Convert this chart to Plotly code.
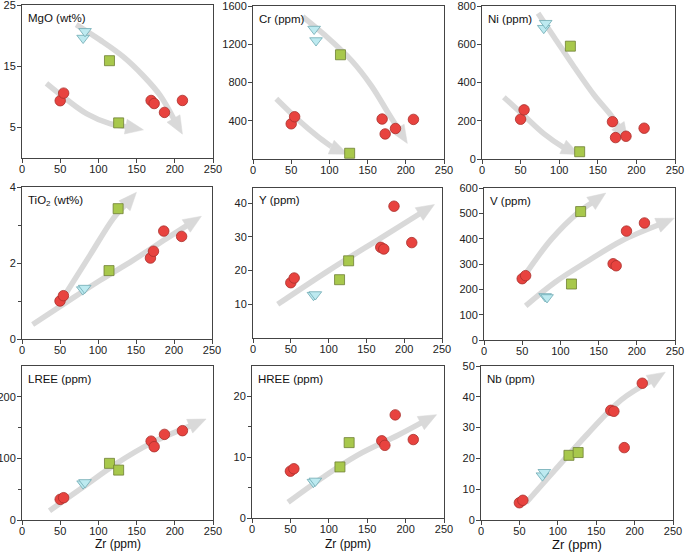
import plotly.graph_objects as go
import numpy as np

W, H = 685, 552

# ---------------- data ----------------
zr_red = [50, 54.5, 169, 173, 186.5, 210]
zr_green = [114.5, 126.5]
zr_cyan = [80, 82.5]

mgo_red = [9.36, 10.6, 9.4, 8.9, 7.45, 9.4]
mgo_green = [15.9, 5.74]
mgo_cyan = [19.6, 20.7]

cr_red = [368, 442, 418, 262, 319, 414]
cr_green = [1090, 60]
cr_cyan = [1359, 1239]

ni_red = [208, 257, 195, 112, 119, 161]
ni_green = [590, 38]
ni_cyan = [684, 710]

tio2_red = [1.00, 1.14, 2.13, 2.31, 2.84, 2.70]
tio2_green = [1.80, 3.43]
tio2_cyan = [1.30, 1.34]

y_red = [16.4, 17.8, 26.9, 26.4, 39.1, 28.3]
y_green = [17.3, 22.9]
y_cyan = [12.7, 12.9]

v_red = [242, 254, 301, 293, 430, 462]
v_green = [221, 507]
v_cyan = [172, 168]

lree_red = [33.5, 36.2, 128, 119, 139, 145]
lree_green = [92, 81]
lree_cyan = [59, 61]

hree_red = [7.7, 8.1, 12.7, 11.95, 16.96, 12.9]
hree_green = [8.4, 12.4]
hree_cyan = [5.9, 6.1]

nb_red = [5.6, 6.4, 35.6, 35.3, 23.5, 44.4]
nb_green = [21.0, 21.9]
nb_cyan = [14.4, 15.5]

# guide arrows (trend paths, data coordinates)
mgo_arrow1_x = [71, 102, 132, 159, 181, 210]
mgo_arrow1_y = [21.8, 19.3, 16.6, 13.4, 10.2, 3.9]
mgo_arrow2_x = [32, 58, 85, 115, 159]
mgo_arrow2_y = [12.2, 9.6, 7.2, 5.6, 4.6]

cr_arrow1_x = [65, 94, 129, 155, 177, 202]
cr_arrow1_y = [1490, 1296, 1030, 765, 481, 163]
cr_arrow2_x = [30.5, 59, 85, 105, 124]
cr_arrow2_y = [630, 411, 234, 115, 50]

ni_arrow1_x = [72.6, 93.5, 119.6, 145.7, 167.4, 189]
ni_arrow1_y = [762, 637, 480, 332, 227, 96]
ni_arrow2_x = [28.3, 54.3, 80.4, 104, 126]
ni_arrow2_y = [323, 227, 131, 65, 23]

tio2_arrow1_x = [14, 58.7, 102.5, 146, 190, 236]
tio2_arrow1_y = [0.38, 0.97, 1.54, 2.07, 2.64, 3.23]
tio2_arrow2_x = [58.7, 89.3, 120, 150.6]
tio2_arrow2_y = [1.23, 2.2, 3.17, 3.86]

y_arrow1_x = [32.7, 100, 170, 240]
y_arrow1_y = [10, 20, 29.8, 39.6]

v_arrow1_x = [55.9, 88.6, 123.6, 159.4]
v_arrow1_y = [267, 399, 504, 580]
v_arrow2_x = [54.6, 93, 136.7, 180.3, 249]
v_arrow2_y = [135, 228, 313, 392, 481]

lree_arrow1_x = [36, 80.6, 124, 167.7, 241]
lree_arrow1_y = [15, 54, 92, 124, 164]

hree_arrow1_x = [47, 93.5, 137, 190, 240.4]
hree_arrow1_y = [2.6, 6.8, 10.3, 13.6, 17]

nb_arrow1_x = [58.7, 95.6, 139, 182.6, 240]
nb_arrow1_y = [5.6, 16, 28, 39, 48]

x_ticks = [0, 50, 100, 150, 200, 250]

# ---------------- panel layout ----------------
panels = [
    dict(label="MgO (wt%)", red=mgo_red, green=mgo_green, cyan=mgo_cyan,
         yr=[0, 25], tv=[5, 15, 25], minor=None, box=(22, 213, 5, 158),
         arrows=[(mgo_arrow1_x, mgo_arrow1_y), (mgo_arrow2_x, mgo_arrow2_y)]),
    dict(label="Cr (ppm)", red=cr_red, green=cr_green, cyan=cr_cyan,
         yr=[0, 1600], tv=[400, 800, 1200, 1600], minor=None, box=(253, 444, 6, 159),
         arrows=[(cr_arrow1_x, cr_arrow1_y), (cr_arrow2_x, cr_arrow2_y)]),
    dict(label="Ni (ppm)", red=ni_red, green=ni_green, cyan=ni_cyan,
         yr=[0, 800], tv=[0, 200, 400, 600, 800], minor=None, box=(482, 675, 6, 159),
         arrows=[(ni_arrow1_x, ni_arrow1_y), (ni_arrow2_x, ni_arrow2_y)]),
    dict(label="TiO<sub>2</sub> (wt%)", red=tio2_red, green=tio2_green, cyan=tio2_cyan,
         yr=[0, 4], tv=[0, 2, 4], minor=[1, 3], box=(22, 212, 187, 339),
         arrows=[(tio2_arrow1_x, tio2_arrow1_y), (tio2_arrow2_x, tio2_arrow2_y)]),
    dict(label="Y (ppm)", red=y_red, green=y_green, cyan=y_cyan,
         yr=[0, 44.5], tv=[10, 20, 30, 40], minor=None, box=(253, 442, 188, 338),
         arrows=[(y_arrow1_x, y_arrow1_y)]),
    dict(label="V (ppm)", red=v_red, green=v_green, cyan=v_cyan,
         yr=[0, 600], tv=[0, 100, 200, 300, 400, 500, 600], minor=None, box=(484, 675, 188, 340),
         arrows=[(v_arrow1_x, v_arrow1_y), (v_arrow2_x, v_arrow2_y)]),
    dict(label="LREE (ppm)", red=lree_red, green=lree_green, cyan=lree_cyan,
         yr=[0, 250], tv=[0, 100, 200], minor=[50, 150], box=(22, 213, 366, 520),
         arrows=[(lree_arrow1_x, lree_arrow1_y)]),
    dict(label="HREE (ppm)", red=hree_red, green=hree_green, cyan=hree_cyan,
         yr=[0, 25], tv=[0, 10, 20], minor=[5, 15], box=(252, 444, 366, 518),
         arrows=[(hree_arrow1_x, hree_arrow1_y)]),
    dict(label="Nb (ppm)", red=nb_red, green=nb_green, cyan=nb_cyan,
         yr=[0, 50], tv=[0, 10, 20, 30, 40, 50], minor=None, box=(481, 673, 366, 520),
         arrows=[(nb_arrow1_x, nb_arrow1_y)]),
]

ARROW_COLOR = "#d9d9d9"
XR = [0, 250]
FONT = "Arial, Liberation Sans, sans-serif"


def build_arrow(box, yr, xs, ys, head_len=18.0, head_w=15.0):
    x0, x1, yt, yb = box
    sx = (x1 - x0) / (XR[1] - XR[0])
    sy = (yb - yt) / (yr[1] - yr[0])
    P = np.array([[(x - XR[0]) * sx, (y - yr[0]) * sy] for x, y in zip(xs, ys)])
    tip = P[-1]
    d = tip - P[-2]
    d = d / np.linalg.norm(d)
    base = tip - d * head_len
    perp = np.array([-d[1], d[0]])
    tri = np.array([tip, base + perp * head_w / 2, base - perp * head_w / 2, tip])
    shaft = np.vstack([P[:-1], base + d * 2])
    to_x = lambda a: list(a[:, 0] / sx + XR[0])
    to_y = lambda a: list(a[:, 1] / sy + yr[0])
    return to_x(shaft), to_y(shaft), to_x(tri), to_y(tri)


fig = go.Figure()
layout = dict(
    width=W, height=H, margin=dict(l=0, r=0, t=0, b=0, pad=0, autoexpand=False),
    paper_bgcolor="white", plot_bgcolor="white", showlegend=False,
    font=dict(family=FONT, size=11, color="#222"),
)
annotations = []

for i, p in enumerate(panels, start=1):
    sfx = "" if i == 1 else str(i)
    xa, ya = "x" + sfx, "y" + sfx
    x0, x1, yt, yb = p["box"]

    for (ax_x, ax_y) in p["arrows"]:
        shx, shy, trx, try_ = build_arrow(p["box"], p["yr"], ax_x, ax_y)
        fig.add_trace(go.Scatter(x=shx, y=shy, mode="lines", xaxis=xa, yaxis=ya,
                                 line=dict(color=ARROW_COLOR, width=5.5, shape="spline"),
                                 hoverinfo="skip"))
        fig.add_trace(go.Scatter(x=trx, y=try_, mode="lines", fill="toself", xaxis=xa, yaxis=ya,
                                 fillcolor=ARROW_COLOR, line=dict(color=ARROW_COLOR, width=0.5),
                                 hoverinfo="skip"))

    fig.add_trace(go.Scatter(x=zr_cyan, y=p["cyan"], mode="markers", xaxis=xa, yaxis=ya,
                             marker=dict(symbol="triangle-down", size=11, color="#bdeaf0",
                                         line=dict(color="#6fa9b2", width=0.8))))
    fig.add_trace(go.Scatter(x=zr_green, y=p["green"], mode="markers", xaxis=xa, yaxis=ya,
                             marker=dict(symbol="square", size=10, color="#a8c84c",
                                         line=dict(color="#6e7f33", width=0.8))))
    fig.add_trace(go.Scatter(x=zr_red, y=p["red"], mode="markers", xaxis=xa, yaxis=ya,
                             marker=dict(symbol="circle", size=10.5, color="#e8433f",
                                         line=dict(color="#a8302c", width=0.8))))

    axis_common = dict(showline=True, mirror=True, linecolor="#444", linewidth=1,
                       ticks="outside", ticklen=4, tickcolor="#444", showgrid=False,
                       zeroline=False, automargin=False, ticklabeloverflow="allow",
                       tickfont=dict(family=FONT, size=11, color="#222"))
    layout["xaxis" + sfx] = dict(domain=[x0 / W, x1 / W], anchor=ya, range=XR,
                                 tickmode="array", tickvals=x_ticks,
                                 ticklabelstandoff=-3, **axis_common)
    yd = dict(domain=[1 - yb / H, 1 - yt / H], anchor=xa, range=p["yr"],
              tickmode="array", tickvals=p["tv"], ticklabelstandoff=-1, **axis_common)
    if p["minor"]:
        yd["minor"] = dict(tickmode="array", tickvals=p["minor"], ticks="outside",
                           ticklen=3, tickcolor="#444")
    layout["yaxis" + sfx] = yd

    annotations.append(dict(text=p["label"], xref=xa + " domain", yref=ya + " domain",
                            x=0.02, y=0.97, xanchor="left", yanchor="top", showarrow=False,
                            font=dict(family=FONT, size=11.5, color="#111")))
    if i >= 7:
        annotations.append(dict(text="Zr (ppm)", xref="paper", yref="paper",
                                x=(x0 + x1) / 2 / W, y=1 - 544 / H, xanchor="center",
                                yanchor="middle", showarrow=False,
                                font=dict(family=FONT, size=13 if i == 9 else 12, color="#111")))

layout["annotations"] = annotations
fig.update_layout(**layout)
fig.write_html("out.html", config={"displayModeBar": False},
               post_script="document.body.style.margin='0px';")
